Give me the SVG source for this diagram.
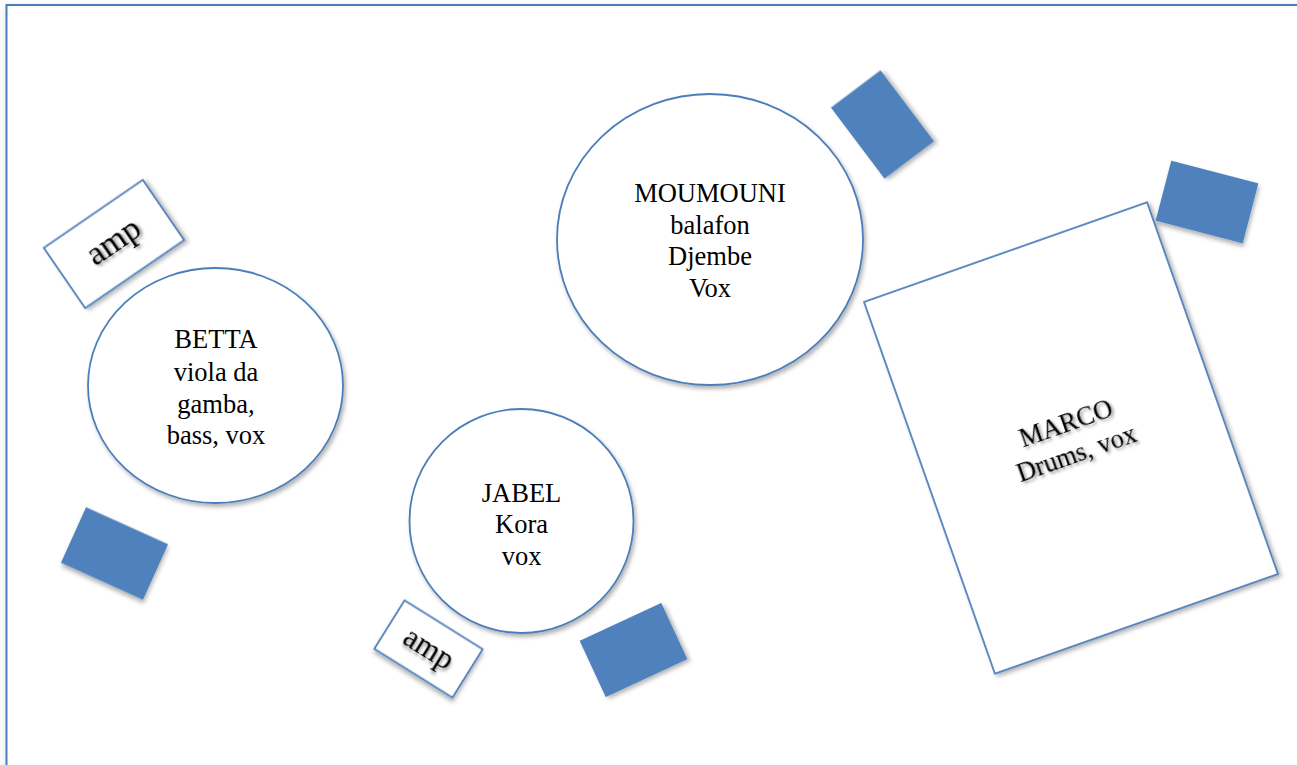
<svg xmlns="http://www.w3.org/2000/svg" width="1297" height="765" viewBox="0 0 1297 765">
  <defs>
    <filter id="shadow" x="-20%" y="-20%" width="140%" height="140%">
      <feDropShadow dx="2" dy="3" stdDeviation="2.2" flood-color="#000" flood-opacity="0.3"/>
    </filter>
    <filter id="tshadow" x="-20%" y="-40%" width="140%" height="180%">
      <feDropShadow dx="1.5" dy="2.5" stdDeviation="1.8" flood-color="#000" flood-opacity="0.45"/>
    </filter>
    <filter id="fshadow" x="-5%" y="-5%" width="110%" height="110%">
      <feDropShadow dx="0" dy="3" stdDeviation="4" flood-color="#000" flood-opacity="0.12"/>
    </filter>
  </defs>
  <style>
    .outline { fill: #ffffff; stroke: #4A7EBB; stroke-width: 1.8; }
    .block { fill: #4F81BD; stroke: none; }
    .lbl { font-family: "Liberation Serif", "Times New Roman", serif; font-size: 26.5px; fill: #000; text-anchor: middle; }
    .amp { font-family: "Liberation Serif", "Times New Roman", serif; fill: #000; text-anchor: middle; }
  </style>
  <rect width="1297" height="765" fill="#ffffff"/>

  <g id="frame">
    <rect x="6.5" y="5" width="1300" height="800" fill="#ffffff" stroke="#4A7EBB" stroke-width="2" filter="url(#fshadow)"/>
  </g>

  <g id="connectors"/>

  <g id="betta-amp" transform="translate(114,244) rotate(-34.5)">
    <rect class="outline" x="-60" y="-36.5" width="120" height="73" filter="url(#shadow)"/>
    <text class="amp" x="1" y="8" font-size="34" filter="url(#tshadow)">amp</text>
  </g>

  <g id="betta">
    <ellipse class="outline" cx="215.5" cy="385.5" rx="127.5" ry="117.5" filter="url(#shadow)"/>
    <text class="lbl" x="216" y="348">BETTA</text>
    <text class="lbl" x="216" y="380.5">viola da</text>
    <text class="lbl" x="216" y="412.5">gamba,</text>
    <text class="lbl" x="216" y="444">bass, vox</text>
  </g>

  <g id="betta-monitor" transform="translate(114.5,553.5) rotate(24.3)">
    <rect class="block" x="-45" y="-30.5" width="90" height="61" filter="url(#shadow)"/>
  </g>

  <g id="moumouni">
    <ellipse class="outline" cx="710" cy="239.5" rx="153" ry="145.5" filter="url(#shadow)"/>
    <text class="lbl" x="710" y="202">MOUMOUNI</text>
    <text class="lbl" x="710" y="233.5">balafon</text>
    <text class="lbl" x="710" y="265">Djembe</text>
    <text class="lbl" x="710" y="297">Vox</text>
  </g>

  <g id="moumouni-monitor" transform="translate(882.5,124.5) rotate(-37)">
    <rect class="block" x="-31" y="-44.5" width="62" height="89" filter="url(#shadow)"/>
  </g>

  <g id="jabel">
    <circle class="outline" cx="521.5" cy="521" r="112" filter="url(#shadow)"/>
    <text class="lbl" x="521.5" y="502">JABEL</text>
    <text class="lbl" x="521.5" y="533">Kora</text>
    <text class="lbl" x="521.5" y="565">vox</text>
  </g>

  <g id="jabel-amp" transform="translate(428.5,649) rotate(32)">
    <rect class="outline" x="-46" y="-28.5" width="92" height="57" filter="url(#shadow)"/>
    <text class="amp" x="0" y="9" font-size="31" filter="url(#tshadow)">amp</text>
  </g>

  <g id="jabel-monitor" transform="translate(633.5,650) rotate(-24.9)">
    <rect class="block" x="-45" y="-31" width="90" height="62" filter="url(#shadow)"/>
  </g>

  <g id="marco" transform="translate(1071,438) rotate(-19.4)">
    <rect class="outline" x="-150" y="-197" width="300" height="394" filter="url(#shadow)"/>
    <text class="lbl" x="0" y="-7" filter="url(#tshadow)">MARCO</text>
    <text class="lbl" x="0" y="25" filter="url(#tshadow)">Drums, vox</text>
  </g>

  <g id="marco-monitor" transform="translate(1207,202) rotate(14.6)">
    <rect class="block" x="-45" y="-31" width="90" height="62" filter="url(#shadow)"/>
  </g>
</svg>
